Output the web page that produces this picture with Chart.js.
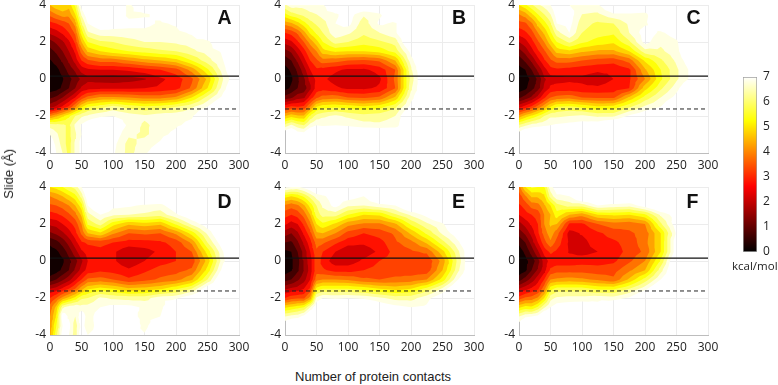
<!DOCTYPE html>
<html><head><meta charset="utf-8">
<script src="https://cdn.jsdelivr.net/npm/chart.js@4"></script>
<style>
html,body{margin:0;padding:0;background:#fff;width:778px;height:385px;overflow:hidden}
canvas{position:absolute;filter:blur(0.35px)}
.t{position:absolute;color:#222;white-space:nowrap}
.p{font:bold 19.5px "Liberation Sans",sans-serif;color:#111}
</style></head><body>
<script>
const W=8;
const contacts=[0,10,20,30,40,50,60,80,100,125,150,175,200,225,250,275,300];
const slide=[4,3.5,3,2.5,2,1.5,1,0.5,0,-0.5,-1,-1.5,-2,-2.5,-3,-3.5,-4];
const xTickValues=[0,50,100,150,200,250,300];
const yTickValues=[-4,-2,0,2,4];
const energyTicks=[0,1,2,3,4,5,6,7];
const levelStep=0.5;
const panelA=[
[4.5,4.9,5.0,4.7,5.6,7.3,W,W,W,6.8],
[3.7,4.0,4.3,4.2,5.0,6.6,7.5,W,W,6.8,6.9,7.2],
[2.8,3.0,3.2,3.5,4.2,5.9,7.0,7.5,7.3,7.2,7.2,6.9,7.1],
[2.1,2.3,2.6,3.0,3.6,5.2,6.4,6.8,6.8,6.8,6.8,6.7,6.8,7.1],
[1.3,1.6,1.9,2.4,3.1,4.5,5.5,5.9,6.0,6.3,6.5,6.5,6.6,6.7,6.8],
[.8,1.1,1.5,2.0,2.6,3.7,4.6,5.0,5.3,5.5,5.7,5.9,6.0,6.4,6.7,7.1],
[.45,.7,1.1,1.6,2.2,3.0,3.4,3.7,3.7,4.0,4.3,4.5,4.8,5.5,6.3,7.0],
[0.2,0.35,.7,1.2,1.6,2.2,2.4,2.5,2.5,2.6,2.8,3.0,3.3,4.2,5.4,6.8],
[0.1,0.2,0.45,.85,1.2,1.6,1.85,1.75,1.7,1.8,1.95,2.4,2.7,3.4,4.6,6.5,7.8],
[0.2,0.3,0.6,1.0,1.5,2.1,2.3,2.4,2.4,2.4,2.5,2.6,2.8,3.6,5.0,6.8],
[.9,1.1,1.5,2,2.5,3.2,3.7,4.1,4.1,4.0,3.8,3.8,4.1,5.0,6.2,7.2],
[1.8,2.1,2.6,3.1,3.9,4.9,5.5,5.8,6.2,5.8,5.6,5.7,6.0,6.4,7.0],
[4.0,4.4,4.9,5.4,6,6.4,6.6,6.9,7,6.8,6.6,6.8,6.8,6.9],
[6.3,6.2,6.1,5.9,6.6,7.1,7.4,W,7.5,6.9,6.4,6.7,6.9,7.2],
[7,6.6,6.2,5.8,6.4,7.0,7.6,W,7.4,6.6,6.4,6.8,7.2],
[7.5,6.8,6.3,5.7,6.6,7.2,W,W,7.2,6.3,6.7,7.1],
[W,7,6.5,5.8,6.6,7.2,W,W,7.1,6.3,6.9,7.5]];
const panelB=[
[6.4,6.8,6.7,6.7,6.8,6.8,6.9],
[5.4,5.8,6.0,6.2,6.4,6.5,6.7,6.9,7.3,6.6,6.9],
[4.2,4.4,4.8,5.3,5.8,6.1,6.3,7.0,7.2,6.2,7.1,6.9],
[3.0,3.2,3.6,4.3,5.1,5.6,6.0,6.9,6.6,6.1,6.5,6.9],
[2.2,2.4,2.9,3.5,4.2,4.8,5.5,6.2,6.0,5.7,5.9,6.2],
[1.3,1.6,2.2,2.8,3.5,4,4.8,5.1,5.0,5,5.2,5.7,7.2],
[.7,1.0,1.6,2.3,3,3.4,3.8,3.7,3.5,3.4,3.6,4.5,6.8],
[.3,.6,1.1,1.8,2.5,2.9,2.8,2.6,2.4,2.4,2.7,3.5,6.4],
[.1,.4,.9,1.4,2.2,2.6,2.6,2.3,2.0,2.0,2.4,3.6,6.2],
[.3,.6,1.0,1.2,1.9,2.7,2.8,2.6,2.4,2.4,2.6,3.5,6.4],
[1.2,1.4,1.8,1.9,2.7,3.4,3.7,3.8,3.5,3.4,3.6,4.6,6.8],
[2.8,3.1,3.0,3.1,4.0,5.0,5.3,5.4,5.3,5.1,5.3,5.9,7.2],
[4.5,4.8,4.6,4.6,5.6,6.2,6.4,6.6,6.4,6.2,6.3,6.5],
[6.2,6.6,6.2,6.0,6.7,7.0,6.9,7,6.9,6.7,6.6,6.7],
[7.6,W,7.4,7.3],
[W],[W]];
const panelC=[
[5,5.4,5.9,6.4,6.7,7.0,7.5,7.0,6.8,6.9],
[4.0,4.3,4.9,5.5,6.0,6.5,7.3,7.3,6.5,6.4,6.9,6.9,6.8],
[3.3,3.4,3.9,4.7,5.3,5.9,7,7.2,6.2,5.9,6.0,6.6,6.9,7.5],
[2.7,2.9,3.3,4.0,4.6,5.4,6.3,7,6,5.7,5.6,6.5,7.3,6.9,7.3],
[2.0,2.3,2.8,3.4,4,4.8,5.5,6.1,5.6,5.3,5.1,5.9,7.2,6.6,6.9],
[1.3,1.7,2.3,2.9,3.4,4.0,4.7,4.9,4.6,4.4,4.4,5.0,6.3,6.4,6.8],
[.7,1.1,1.6,2.3,2.9,3.4,3.7,3.7,3.5,3.3,3.2,3.7,5.1,5.9,6.6,7.5],
[.3,.5,1,1.6,2.3,2.8,2.9,2.8,2.7,2.6,2.6,2.9,4.4,5.5,6.4,7.2],
[.15,.3,.6,1.1,1.9,2.3,2.3,2.4,2.4,2.2,2.5,2.9,4,5.4,6.4,7.2],
[.2,.4,.8,1.3,2.1,2.6,2.7,2.7,2.6,2.6,2.7,3.0,4.8,5.9,6.8],
[.9,1.2,1.6,2.2,2.9,3.5,3.7,3.8,3.5,3.4,3.4,4.6,5.7,6.5,7.2],
[2.3,2.7,3.1,3.7,4.3,5,5.5,5.6,5.4,5.1,5.2,5.9,6.6,7.0],
[4.2,4.7,5.1,5.5,6,6.4,6.4,6.5,6.6,6.4,6.4,7.1,7.5],
[6.1,6.4,6.7,6.8,6.9,7.0,7.1,7.2,7.3,7.4],
[7.4],[W],[W]];
const panelD=[
[5,5.2,5.5,5.9,6.2,7.0],
[4,4.2,4.5,4.9,5.3,6.2,7.5],
[3.4,3.5,3.7,4.0,4.5,5.3,7,W,7.2,7.1,6.9,6.8,7.5],
[2.8,2.9,3.1,3.4,3.8,4.6,6.3,7,6.6,6.5,6.4,6.2,6.9,7.6],
[2.1,2.2,2.5,2.8,3.2,4,5.6,6.2,5.2,4.6,4.8,4.6,5.6,6.6,7.4],
[1.4,1.6,1.9,2.3,2.8,3.6,4.5,4.9,4.1,3.5,3.6,3.5,4.1,5.2,6.6],
[.6,.8,1.2,1.7,2.3,2.9,3.1,3.2,3,2.8,2.8,2.9,3.2,4.1,6,7.5],
[.3,.4,.7,1.2,1.8,2.4,2.7,2.8,2.6,2.1,2.3,2.6,3.0,3.5,5.2,7],
[.1,.2,.4,.85,1.3,1.9,2.5,2.7,2.6,2.1,2.5,2.8,3.0,3.2,4.7,6.9],
[.15,.3,.6,1,1.6,2.2,2.7,2.9,2.8,2.6,2.9,3.2,3.3,3.6,5.2,7.3],
[.7,1,1.4,1.8,2.4,3,3.6,3.7,3.5,3.1,3.3,3.6,3.8,4.4,6.0],
[2.0,2.2,2.6,3.0,3.5,4.3,4.9,5.2,5,4.6,4.7,4.9,5.4,6,7.5],
[3.0,3.5,4.2,4.7,5.2,5.9,6,6.6,6.4,6.3,6.3,6.8,6.9,7.5],
[3.7,4.7,6.4,6.8,6.9,6.7,6.7,7.0,7.2,7.2,6.9,6.8],
[4,5.1,7.4,6.9,6.5,7.5,6.7,7.4,W,7.4,6.7,7],
[4.2,5.5,7.0,7.2,6.2,7.2,6.7,7.3,W,W,6.7],
[4.3,5.8,7.3,7.0,6.2,7.5,7,7.2,W,7.2,7.1]];
const panelE=[
[7.2,7,6.9,7.2,7.5],
[5.2,5.0,5.2,5.6,6.2,6.7,6.9,7.3,7.3,7],
[3.9,3.7,3.9,4.4,5.2,6,6.6,7.2,6.6,6.5,6.8,7],
[3.2,3,3.2,3.7,4.5,5.7,6.2,6.2,5.5,5,5.1,5.9,6.6,7.2],
[2.6,2.3,2.5,3.1,3.9,5.0,5.4,4.9,4.2,3.9,3.9,4.4,5.6,6.4,6.9],
[1.7,1.5,1.9,2.6,3.3,4.4,4.5,4,3.3,3,3.2,3.6,4.6,5.6,6.6,7.4],
[1.0,.9,1.4,2.1,2.8,3.7,3.6,3.1,2.7,2.6,2.8,3.4,3.8,4.6,5.8,6.9],
[.4,.5,1.0,1.7,2.5,3.4,3,2.5,2.1,2.2,2.6,3.2,3.4,3.6,4.8,6.4],
[.2,.4,.8,1.6,2.3,3.3,2.8,2.2,2.2,2.6,3,3.2,3.2,3.1,4.2,6.2],
[.25,.45,.9,1.5,2.2,3.3,3.1,2.8,2.8,3,3.2,3.3,3.2,3.2,4.5,6.4],
[.8,1.0,1.4,1.8,2.5,3.8,4.0,4,3.9,3.6,3.5,3.6,3.7,4.0,5.2,7],
[1.9,2.1,2.2,2.5,3.1,5.2,5.5,5.5,5.5,5.3,5.0,4.8,5.0,5.7,6.6],
[3.0,3.3,3.4,3.4,4.2,6.6,7,6.9,7,6.9,6.6,6.3,6.3,6.8,7.5],
[4.9,5.1,5.3,5.5,6.5,7.5,W,W,W,W,7.5,7.2,7,7.1],
[6.5,6.7,6.8,7.2],
[7.5],[W]];
const panelF=[
[3.8,5,5.6,5.5,5.4,6.8,7.4,7.2],
[3.2,3.9,4.6,4.6,4.9,6.2,6.9,7],
[2.9,3.2,3.7,3.8,4.4,5.0,5.8,6.2,6.2,7.0,6.8,6.7,7.3],
[2.5,2.8,3.0,3.2,4.0,4.5,5.3,4.5,4.2,5.0,5.1,5.0,5.4,6.6,7.3],
[1.8,2.2,2.6,3,4,4.6,4.5,2.9,2.9,3.5,3.8,3.7,4.0,5.9,7.4],
[1.2,1.6,2.2,2.9,3.7,4.3,3.7,2.3,2.55,2.9,3.2,3.4,3.7,5.0,7.1],
[.6,1.0,1.7,2.5,3.3,3.9,3.3,2.4,2.3,2.8,2.9,3.2,3.8,5.0,7.5],
[.25,.6,1.2,1.9,2.7,3.1,2.9,2.45,2.3,2.5,2.7,3.2,3.6,5.0,7.4],
[.1,.35,.7,1.3,2.2,2.7,2.7,2.7,2.8,2.8,2.9,3.4,4,5.6,W],
[.15,.4,1.0,1.6,2.3,3.1,3.3,3.3,3.3,3.2,3.3,3.9,4.5,6.3],
[.8,1.2,1.7,2.3,3,4,4.1,4.2,4.1,3.9,3.6,4.6,5.7,7],
[2.0,2.3,2.6,2.9,3.8,5.3,5.7,5.7,5.7,5.4,5.4,6,6.8],
[3.2,3.6,3.7,4.1,5,6.3,6.6,6.7,6.7,6.8,6.7,7.1],
[4.9,5.2,5.1,5.6,6.4,7,7.3,7.4,7.5,7.3],
[6.5,6.9,7.0,7.2],
[7.3],[W]];
const solidSlide=[0.16,0.16,0.16,0.16,0.16,0.16];
const dashedSlide=[-1.62,-1.62,-1.62,-1.62,-1.62,-1.62];
const panelNames=['A','B','C','D','E','F'];
const panels=[panelA,panelB,panelC,panelD,panelE,panelF];

function hot(t){const c=v=>Math.max(0,Math.min(1,v));
  return `rgb(${Math.round(255*c(t/0.375))},${Math.round(255*c((t-0.375)/0.375))},${Math.round(255*c((t-0.75)/0.25))})`;}
function bandColor(k){return k>=14?'#ffffff':hot((k+(k<5?0.35:0.6))*levelStep/7);}

function contourLoops(rows){
  const xs=[-60,-30,...contacts,330];
  const ys=[6,5,...slide,-5,-6].slice().reverse();
  const z0=rows.map(r=>contacts.map((_,i)=>r[i]===undefined?W:r[i]));
  const rowAt=j=>{
    const y=ys[j];if(y===6||y===-6)return null;
    const src=y===5?z0[0]:y===-5?z0[z0.length-1]:z0[slide.indexOf(y)];
    return [99,src[0],...src,99];};
  const Z=ys.map((_,j)=>{const r=rowAt(j);return r||xs.map(()=>99);});
  const nx=xs.length,ny=ys.length;
  const nodes=[];const id=(i,j)=>j*nx+i;
  for(let j=0;j<ny;j++)for(let i=0;i<nx;i++)nodes[id(i,j)]=[xs[i],ys[j],Z[j][i]];
  const cid=(i,j)=>nx*ny+j*nx+i;
  for(let j=0;j<ny-1;j++)for(let i=0;i<nx-1;i++){
    const a=nodes[id(i,j)],b=nodes[id(i+1,j)],c=nodes[id(i+1,j+1)],d=nodes[id(i,j+1)];
    nodes[cid(i,j)]=[(a[0]+b[0])/2,(a[1]+d[1])/2,(a[2]+b[2]+c[2]+d[2])/4];}
  const loops=[];
  for(let k=0;k<14;k++){
    const L=(k+1)*levelStep-1e-3;
    const next=new Map();const pts=new Map();
    const cross=(p,q)=>{const key=p<q?p+'_'+q:q+'_'+p;
      if(!pts.has(key)){const P=nodes[p],Q=nodes[q],t=(L-P[2])/(Q[2]-P[2]);
        pts.set(key,{x:P[0]+t*(Q[0]-P[0]),y:P[1]+t*(Q[1]-P[1])});}
      return key;};
    const tri=(A,B,C)=>{
      const ia=nodes[A][2]<=L,ib=nodes[B][2]<=L,ic=nodes[C][2]<=L;
      const n=ia+ib+ic;if(n===0||n===3)return;
      let p=A,q=B,r=C;
      if(n===1){ if(ib){p=B;q=C;r=A;} else if(ic){p=C;q=A;r=B;}
        next.set(cross(p,q),cross(p,r));}
      else { if(!ib){p=B;q=C;r=A;} else if(!ic){p=C;q=A;r=B;}
        next.set(cross(p,r),cross(p,q));}
    };
    for(let j=0;j<ny-1;j++)for(let i=0;i<nx-1;i++){
      const a=id(i,j),b=id(i+1,j),c=id(i+1,j+1),d=id(i,j+1),m=cid(i,j);
      tri(a,b,m);tri(b,c,m);tri(c,d,m);tri(d,a,m);}
    while(next.size){
      const start=next.keys().next().value;const poly=[];let cur=start;
      while(next.has(cur)){const n=next.get(cur);next.delete(cur);poly.push(pts.get(cur));cur=n;}
      poly.push({...poly[0]});
      let area=0;for(let i=0;i<poly.length-1;i++)area+=poly[i].x*poly[i+1].y-poly[i+1].x*poly[i].y;
      area/=2;
      loops.push({poly,area:Math.abs(area),color:bandColor(area>0?k:k+1)});
    }
  }
  loops.sort((u,v)=>u.area-v.area);
  return loops;
}

const TICK_FONT={family:'"Open Sans",sans-serif',size:12};
const geom=[[50.4,4.7],[285,4.7],[519.4,4.7],[50.4,187.4],[285,187.4],[519.4,187.4]];
const PW=189,PH=148,LP=34,TP=8,RP=14,BP=24;
panels.forEach((rows,n)=>{
  const cv=document.createElement('canvas');
  const [px,py]=geom[n];
  const cw=Math.round(PW+LP+RP),ch=Math.round(PH+TP+BP);
  cv.width=cw;cv.height=ch;cv.style.left=(px-LP)+'px';cv.style.top=(py-TP)+'px';
  cv.style.width=cw+'px';cv.style.height=ch+'px';
  document.body.appendChild(cv);
  const lines=[
    {data:[{x:0,y:solidSlide[n]},{x:300,y:solidSlide[n]}],borderColor:'#111',borderWidth:1.2,pointRadius:0,showLine:true,fill:false},
    {data:[{x:0,y:dashedSlide[n]},{x:300,y:dashedSlide[n]}],borderColor:'#222',borderWidth:1,borderDash:[4,3],pointRadius:0,showLine:true,fill:false}
  ];
  const fills=contourLoops(rows).map(l=>({data:l.poly,showLine:true,fill:'shape',backgroundColor:l.color,borderColor:l.color,borderWidth:0,pointRadius:0,tension:0}));
  new Chart(cv,{type:'scatter',data:{datasets:[...lines,...fills]},options:{
    responsive:false,animation:false,events:[],
    layout:{padding:{left:0,top:TP,right:RP,bottom:0}},
    plugins:{legend:{display:false},tooltip:{enabled:false}},
    scales:{
      x:{type:'linear',min:0,max:300,afterFit:s=>{s.height=BP;s.paddingLeft=0;s.paddingRight=0;},
        afterBuildTicks:s=>{s.ticks=xTickValues.map(v=>({value:v}));},
        grid:{color:'#ececec',drawTicks:false,lineWidth:1},border:{color:'#bdbdbd'},
        ticks:{font:TICK_FONT,color:'#222',padding:5,maxRotation:0,autoSkip:false}},
      y:{type:'linear',min:-4,max:4,afterFit:s=>{s.width=LP;s.paddingTop=0;s.paddingBottom=0;},
        afterBuildTicks:s=>{s.ticks=yTickValues.map(v=>({value:v}));},
        grid:{color:'#ececec',drawTicks:false,lineWidth:1},border:{color:'#bdbdbd'},
        ticks:{font:TICK_FONT,color:'#222',padding:4,autoSkip:false}}
    }}});
  const lab=document.createElement('div');lab.className='t p';lab.textContent=panelNames[n];
  lab.style.left=(px+167)+'px';lab.style.top=(py+(n<3?1:3))+'px';document.body.appendChild(lab);
});

// colour bar
(function(){
  const cv=document.createElement('canvas');cv.width=43;cv.height=195;
  cv.style.left='735px';cv.style.top='68px';cv.style.width='43px';cv.style.height='195px';
  document.body.appendChild(cv);
  new Chart(cv,{type:'bar',data:{labels:['kcal/mol'],datasets:[{data:[[energyTicks[0],energyTicks[7]]],
    barPercentage:1,categoryPercentage:1,borderWidth:1,borderColor:'#a0a0a0',borderSkipped:false,
    backgroundColor:c=>{const a=c.chart.chartArea;if(!a)return '#000';
      const g=c.chart.ctx.createLinearGradient(0,a.bottom,0,a.top);
      for(let i=0;i<=40;i++)g.addColorStop(i/40,hot(i/40));return g;}}]},
    options:{responsive:false,animation:false,events:[],
      layout:{padding:{left:8,top:9,bottom:11,right:0}},
      plugins:{legend:{display:false},tooltip:{enabled:false}},
      scales:{x:{display:false},
        y:{position:'right',min:0,max:7,afterFit:s=>{s.width=21;s.paddingTop=0;s.paddingBottom=0;},
          afterBuildTicks:s=>{s.ticks=energyTicks.map(v=>({value:v}));},
          grid:{display:false,drawTicks:false},border:{display:false},
          ticks:{font:TICK_FONT,color:'#222',padding:6,autoSkip:false}}}}});
})();

function text(t,l,tp,css){const d=document.createElement('div');d.className='t';d.textContent=t;
  d.style.cssText+=`left:${l}px;top:${tp}px;`+css;document.body.appendChild(d);return d;}
text('Number of protein contacts',295,369,'font:13px "Liberation Sans",sans-serif;color:#222;');
text('Slide (Å)',1,149,'font:13px "Liberation Sans",sans-serif;color:#222;writing-mode:vertical-rl;transform:rotate(180deg);');
text('kcal/mol',732,258,'font:11.5px "Open Sans",sans-serif;');
</script>
</body></html>
